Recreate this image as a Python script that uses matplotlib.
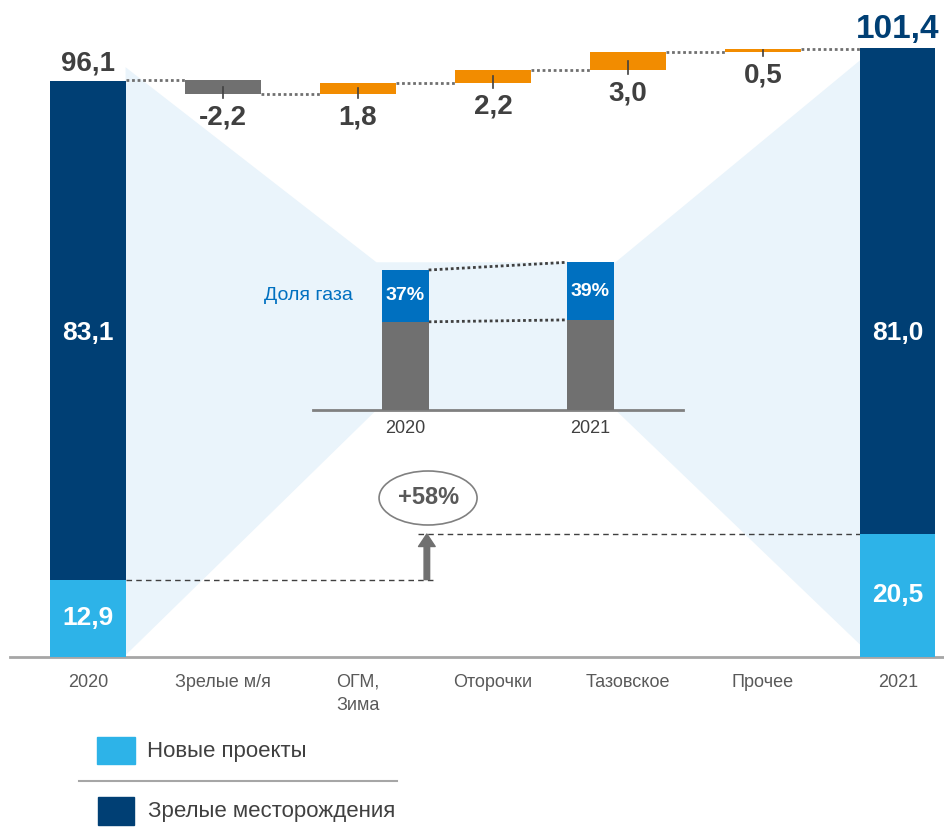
import matplotlib
matplotlib.use("Agg")
import matplotlib.pyplot as plt
from matplotlib.patches import Polygon, Ellipse, Rectangle
from matplotlib.lines import Line2D
import numpy as np

plt.rcParams['font.family'] = ['Liberation Sans Narrow', 'Liberation Sans', 'DejaVu Sans']

# data
categories = ["2020", "Зрелые м/я", "ОГМ,\nЗима", "Оторочки", "Тазовское", "Прочее", "2021"]
new_2020, mature_2020 = 12.9, 83.1
new_2021, mature_2021 = 20.5, 81.0
total_2020, total_2021 = 96.1, 101.4
steps = [-2.2, 1.8, 2.2, 3.0, 0.5]
step_labels = ["-2,2", "1,8", "2,2", "3,0", "0,5"]

inset_years = ["2020", "2021"]
inset_totals = [total_2020, total_2021]
gas_share = [0.37, 0.39]
gas_labels = ["37%", "39%"]
growth_label = "+58%"
legend_labels = ["Новые проекты", "Зрелые месторождения"]

# colours
navy = "#003F74"
light = "#2DB3E8"
orange = "#F28C00"
grey = "#707070"
dark = "#404040"
pale = "#EAF4FB"
gas_blue = "#0070C0"

fig = plt.figure(figsize=(9.44, 8.27), dpi=100)
W, H = 944, 827

# main waterfall axes
ax = fig.add_axes([10 / W, (H - 657) / H, 934 / W, 657 / H])
ax.set_xlim(-0.578, 6.341)
ax.set_ylim(0, 109.5)
bw = 0.556

x_first, x_last = 0, len(categories) - 1
ax.bar(x_first, new_2020, bw, color=light, zorder=3)
ax.bar(x_first, mature_2020, bw, bottom=new_2020, color=navy, zorder=3)
ax.bar(x_last, new_2021, bw, color=light, zorder=3)
ax.bar(x_last, mature_2021, bw, bottom=new_2021, color=navy, zorder=3)

# steps
level = total_2020
prev_right = x_first + bw / 2
for i, (s, lab) in enumerate(zip(steps, step_labels)):
    x = i + 1
    lo, hi = min(level, level + s), max(level, level + s)
    ax.bar(x, hi - lo, bw, bottom=lo, color=grey if s < 0 else orange, zorder=3)
    ax.plot([prev_right, x - bw / 2], [level, level], color=grey, lw=2,
            linestyle=(0, (1, 1)), zorder=2)
    ax.plot([x, x], [(lo + hi) / 2, lo - 0.8], color=dark, lw=1.2, zorder=4)
    ax.annotate(lab, (x, lo), xytext=(0, -17), textcoords="offset points",
                ha="center", va="center", fontsize=20, fontweight="bold", color=dark)
    level += s
    prev_right = x + bw / 2
ax.plot([prev_right, x_last - bw / 2], [level, level], color=grey, lw=2,
        linestyle=(0, (1, 1)), zorder=2)

# value labels
ax.annotate("96,1", (x_first, total_2020), xytext=(0, 12), textcoords="offset points",
            ha="center", va="center", fontsize=20, fontweight="bold", color=dark)
ax.annotate("101,4", (x_last, total_2021), xytext=(0, 14), textcoords="offset points",
            ha="center", va="center", fontsize=24, fontweight="bold", color=navy)
ax.text(x_first, 54, "83,1", ha="center", va="center", fontsize=19, fontweight="bold", color="white", zorder=5)
ax.text(x_last, 54, "81,0", ha="center", va="center", fontsize=19, fontweight="bold", color="white", zorder=5)
ax.text(x_first, new_2020 / 2, "12,9", ha="center", va="center", fontsize=19, fontweight="bold", color="white", zorder=5)
ax.text(x_last, new_2021 / 2, "20,5", ha="center", va="center", fontsize=19, fontweight="bold", color="white", zorder=5)

# axis styling
for sp in ["top", "right", "left"]:
    ax.spines[sp].set_visible(False)
ax.spines["bottom"].set_color("#A6A6A6")
ax.spines["bottom"].set_linewidth(2)
ax.set_yticks([])
ax.set_xticks(range(len(categories)))
ax.set_xticklabels(categories, fontsize=13, color="#595959", linespacing=1.45)
for t in ax.get_xticklabels():
    t.set_verticalalignment("top")
    t.set_multialignment("left")
ax.tick_params(axis="x", length=0, pad=12)
ax.patch.set_alpha(0)

# growth of new projects
arrow_x = 2.51
ax.plot([x_first + bw / 2, 2.585], [new_2020, new_2020], color=dark, lw=1,
        linestyle=(0, (4, 3)), zorder=2)
ax.plot([2.444, x_last - bw / 2], [new_2021, new_2021], color=dark, lw=1,
        linestyle=(0, (4, 3)), zorder=2)
ax.annotate("", xy=(arrow_x, new_2021), xytext=(arrow_x, new_2020),
            arrowprops=dict(width=4, headwidth=12, headlength=9, color=grey, shrink=0))
ax.add_patch(Ellipse((2.519, 26.5), 0.726, 9.0, facecolor="none", edgecolor="#808080", lw=1.2, zorder=4))
ax.text(2.519, 26.5, growth_label, ha="center", va="center", fontsize=17,
        fontweight="bold", color="#595959", zorder=5)

# inset: gas share
ins = fig.add_axes([313 / W, (H - 410) / H, 370 / W, 160 / H])
ins.set_xlim(-0.5, 1.5)
ins.set_ylim(0, 160 / 1.4568)
ibw = 0.25
xi = np.arange(len(inset_years))
gas = [t * g for t, g in zip(inset_totals, gas_share)]
oil = [t - g for t, g in zip(inset_totals, gas)]
ins.bar(xi, oil, ibw, color=grey, zorder=3)
ins.bar(xi, gas, ibw, bottom=oil, color=gas_blue, zorder=3)
for x, o, g, lab in zip(xi, oil, gas, gas_labels):
    ins.text(x, o + g / 2, lab, ha="center", va="center", fontsize=14,
             fontweight="bold", color="white", zorder=5)
ins.plot([xi[0] + ibw / 2, xi[1] - ibw / 2], [inset_totals[0], inset_totals[1]],
         color=dark, lw=2, linestyle=(0, (1, 1)), zorder=2)
ins.plot([xi[0] + ibw / 2, xi[1] - ibw / 2], [oil[0], oil[1]],
         color=dark, lw=2, linestyle=(0, (1, 1)), zorder=2)
ins.text(xi[0] - ibw / 2 - 0.16, oil[0] + gas[0] / 2, "Доля газа", ha="right",
         va="center", fontsize=14, color=gas_blue)
for sp in ["top", "right", "left"]:
    ins.spines[sp].set_visible(False)
ins.spines["bottom"].set_color("#808080")
ins.spines["bottom"].set_linewidth(2)
ins.set_yticks([])
ins.set_xticks(xi)
ins.set_xticklabels(inset_years, fontsize=13, color=dark)
ins.tick_params(axis="x", length=0, pad=7)
ins.patch.set_alpha(0)

# zoom funnel behind everything
def to_main(axes, pts):
    disp = axes.transData.transform(pts)
    return ax.transData.inverted().transform(disp)

left_pts = [(x_first + bw / 2, 98.3)]
inner_top = to_main(ins, [(-0.157, total_2021), (1.135, total_2021)])
right_pts = [(x_last - bw / 2, 99.5), (x_last - bw / 2, 2.0)]
inner_bot = to_main(ins, [(1.135, 0), (-0.157, 0)])
poly = np.vstack([left_pts, inner_top, right_pts, inner_bot, [(x_first + bw / 2, 0.3)]])
ax.add_patch(Polygon(poly, closed=True, facecolor=pale, edgecolor="none", zorder=1))

# legend
fig.add_artist(Rectangle((97 / W, (H - 764) / H), 38 / W, 27 / H, color=light, transform=fig.transFigure))
fig.add_artist(Rectangle((98 / W, (H - 825) / H), 36 / W, 28 / H, color=navy, transform=fig.transFigure))
fig.text(147 / W, (H - 752) / H, legend_labels[0], fontsize=16, color=dark, va="center")
fig.text(148 / W, (H - 811) / H, legend_labels[1], fontsize=16, color=dark, va="center")
fig.add_artist(Line2D([79 / W, 397 / W], [(H - 781) / H] * 2, color="#A6A6A6", lw=1.5,
                      transform=fig.transFigure))

fig.savefig("out.png", dpi=100)
